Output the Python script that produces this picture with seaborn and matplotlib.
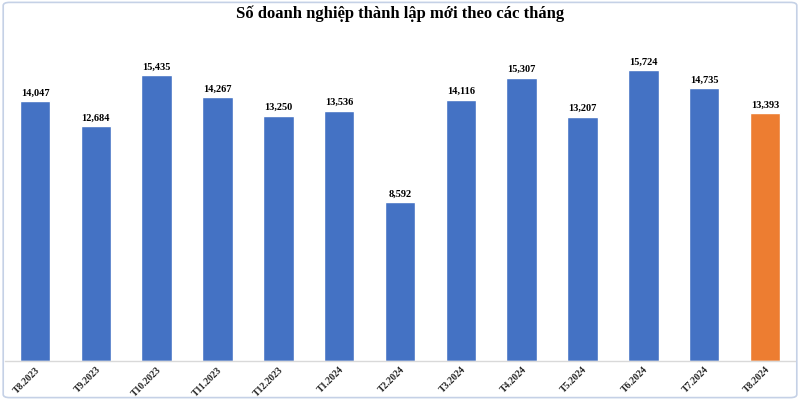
import matplotlib
matplotlib.use("Agg")
import matplotlib.pyplot as plt
import seaborn as sns
import pandas as pd
from matplotlib.patches import FancyBboxPatch

months = ["T8.2023", "T9.2023", "T10.2023", "T11.2023", "T12.2023", "T1.2024",
          "T2.2024", "T3.2024", "T4.2024", "T5.2024", "T6.2024", "T7.2024", "T8.2024"]
values = [14047, 12684, 15435, 14267, 13250, 13536, 8592, 14116, 15307, 13207, 15724, 14735, 13393]
title = "Số doanh nghiệp thành lập mới theo các tháng"

blue = "#4472C4"
orange = "#ED7D31"
colors = [blue] * (len(months) - 1) + [orange]

df = pd.DataFrame({"month": months, "value": values})

sns.set_theme(style="white")
plt.rcParams['font.family'] = ['Liberation Serif', 'DejaVu Serif']

fig = plt.figure(figsize=(8, 4), dpi=100)
ax = fig.add_axes([0.00575, 0.0975, 0.9885, 0.8325])

sns.barplot(data=df, x="month", y="value", hue="month", palette=colors,
            legend=False, width=0.5, ax=ax, saturation=1)

ax.set_ylim(0, 18000)
ax.set_xlim(-0.5, len(months) - 0.5)
ax.set_xlabel("")
ax.set_ylabel("")
ax.set_yticks([])
for s in ["top", "right", "left"]:
    ax.spines[s].set_visible(False)
ax.spines["bottom"].set_color("#d9d9d9")
ax.spines["bottom"].set_linewidth(1)

for i, v in enumerate(values):
    ax.text(i, v + 200, f"{v:,}", ha="center", va="bottom",
            fontsize=7.5, fontweight="bold", color="#000000")

ax.set_xticks(range(len(months)))
ax.set_xticklabels(months, rotation=45, ha="right", rotation_mode="anchor",
                   fontsize=7, fontweight="bold")
ax.tick_params(axis="x", length=0, pad=3)

fig.text(0.5, 0.965, title, ha="center", va="center", fontsize=12,
         fontweight="bold", color="#000000")

border = FancyBboxPatch((0.004, 0.006), 0.992, 0.988,
                        boxstyle="round,pad=0,rounding_size=0.008",
                        transform=fig.transFigure, fill=False,
                        edgecolor="#c5d1e6", linewidth=1.2)
fig.patches.append(border)

fig.savefig("out.png", dpi=100)
